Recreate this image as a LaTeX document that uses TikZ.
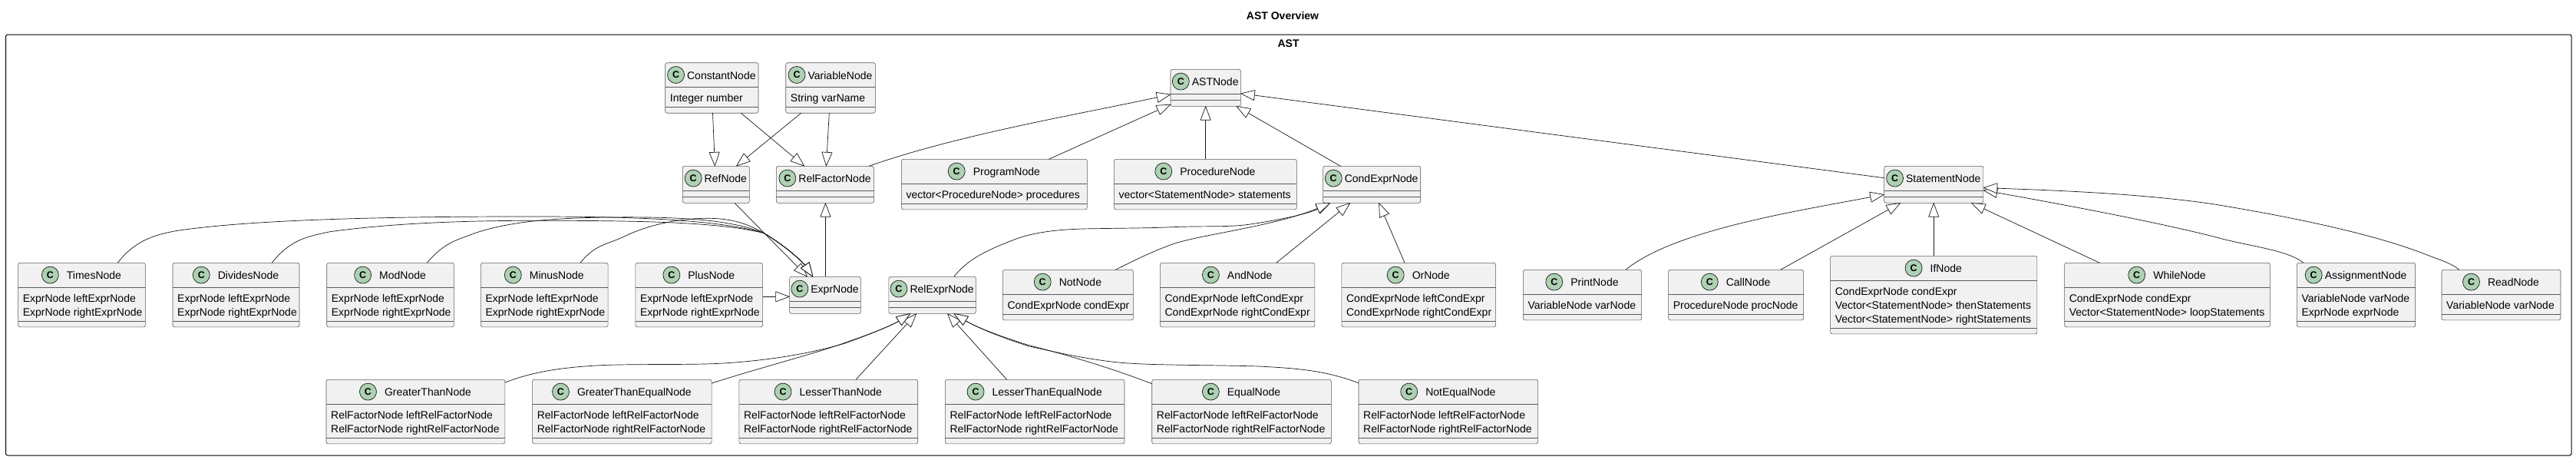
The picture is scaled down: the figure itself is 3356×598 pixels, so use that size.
\documentclass[tikz,border=0pt]{standalone}
\usepackage{fontspec}
\setmainfont{Liberation Sans}
\usetikzlibrary{arrows.meta}
\definecolor{boxfill}{HTML}{F1F1F1}
\definecolor{circfill}{HTML}{ADD1B2}
\definecolor{inkc}{HTML}{181818}
\definecolor{boxline}{HTML}{5A5A5A}
\newcommand{\umlfont}{\fontsize{14}{16}\selectfont}
\tikzset{
  clsbox/.style={draw=boxline,fill=boxfill,line width=0.6pt,rounded corners=2.5pt,inner sep=0pt,outer sep=0pt},
  sepline/.style={draw=boxline,line width=0.6pt},
  circ/.style={circle,draw=inkc,fill=circfill,line width=0.7pt,minimum size=22pt,inner sep=0pt,font=\bfseries\fontsize{12.5}{13}\selectfont},
  txt/.style={anchor=base west,inner sep=0pt,font=\umlfont,text=black},
  titletxt/.style={anchor=base,inner sep=0pt,font=\umlfont,text=black},
  inh/.style={draw=inkc,line width=0.7pt,-{Triangle[length=19pt,width=14pt,fill=white,round]}},
  ttl/.style={inner sep=0pt,font=\bfseries\umlfont,text=black},
  outer/.style={draw=black,line width=1pt,rounded corners=2.5pt,inner sep=0pt}
}
% id, x1, x2, y1, gap, title, number of fields, fields
\newcommand{\umlclass}[8]{%
  \pgfmathsetmacro{\cw}{#3-#2}%
  \pgfmathsetmacro{\comp}{(#7>0)?(7.5+18*#7):8}%
  \pgfmathsetmacro{\ch}{32+\comp+8}%
  \pgfmathsetmacro{\mx}{(#2+#3)/2}%
  \pgfmathsetmacro{\my}{#4+\ch/2}%
  \pgfmathsetmacro{\tcx}{\mx+(22+#5)/2}%
  \pgfmathsetmacro{\cy}{#4+15.8}%
  \pgfmathsetmacro{\ty}{#4+21.3}%
  \pgfmathsetmacro{\sa}{-32}%
  \pgfmathsetmacro{\sb}{-32-\comp}%
  \node[clsbox,minimum width=\cw pt,minimum height=\ch pt] (#1) at (\mx,\my) {};
  \draw[sepline] ([yshift=\sa pt]#1.north west) -- ([yshift=\sa pt]#1.north east);
  \draw[sepline] ([yshift=\sb pt]#1.north west) -- ([yshift=\sb pt]#1.north east);
  \node[titletxt] (#1-t) at (\tcx,\ty) {#6};
  \coordinate (#1-a) at (0,\cy);
  \node[circ,anchor=east] (#1-c) at ([xshift=-#5 pt]#1-t.base west |- #1-a) {C};
  \ifnum#7>0
    \foreach \f [count=\i] in {#8} {
      \pgfmathsetmacro{\fy}{#4+32+18.7+18*(\i-1)}
      \pgfmathsetmacro{\fx}{#2+6}
      \node[txt] (#1-f\i) at (\fx,\fy) {\f};
    }
  \fi
}
\begin{document}
\begin{tikzpicture}[x=1pt,y=-1pt]
\useasboundingbox (0,0) rectangle (3356,598);
\fill[white] (0,0) rectangle (3356,598);
\node[ttl] (overview) at (1671,20) {AST Overview};
\node[outer,minimum width=3342.5pt,minimum height=548pt] (frame) at (1678.75,319) {};
\node[ttl] (asttitle) at (1678.6,57) {AST};

\umlclass{ConstantNode}{866.7}{988}{81.7}{3}{ConstantNode}{1}{Integer number}
\umlclass{VariableNode}{1023.7}{1140.3}{81.7}{3}{VariableNode}{1}{String varName}
\umlclass{RefNode}{889.3}{976.4}{216.3}{3}{RefNode}{0}{}
\umlclass{RelFactorNode}{1011.4}{1138.6}{216.3}{3}{RelFactorNode}{0}{}
\umlclass{ASTNode}{1525}{1616.4}{90.3}{3}{ASTNode}{0}{}
\umlclass{ProgramNode}{1174.3}{1416.4}{207.3}{10}{ProgramNode}{1}{vector<ProcedureNode> procedures}
\umlclass{ProcedureNode}{1451.4}{1689.3}{207.3}{10}{ProcedureNode}{1}{vector<StatementNode> statements}
\umlclass{CondExprNode}{1723.6}{1850.7}{216.3}{3}{CondExprNode}{0}{}
\umlclass{StatementNode}{2454.6}{2583.9}{216.3}{3}{StatementNode}{0}{}

\umlclass{TimesNode}{23.6}{189.3}{342.3}{10}{TimesNode}{2}{ExprNode leftExprNode,ExprNode rightExprNode}
\umlclass{DividesNode}{225}{390}{342.3}{10}{DividesNode}{2}{ExprNode leftExprNode,ExprNode rightExprNode}
\umlclass{ModNode}{425.7}{591.4}{342.3}{10}{ModNode}{2}{ExprNode leftExprNode,ExprNode rightExprNode}
\umlclass{MinusNode}{626.4}{792.1}{342.3}{10}{MinusNode}{2}{ExprNode leftExprNode,ExprNode rightExprNode}
\umlclass{PlusNode}{827.9}{993.6}{342.3}{10}{PlusNode}{2}{ExprNode leftExprNode,ExprNode rightExprNode}
\umlclass{ExprNode}{1028.6}{1121.4}{360.3}{3}{ExprNode}{0}{}
\umlclass{RelExprNode}{1157.9}{1271.4}{360.3}{3}{RelExprNode}{0}{}
\umlclass{NotNode}{1306.4}{1476.4}{351.3}{10}{NotNode}{1}{CondExprNode condExpr}
\umlclass{AndNode}{1511.4}{1712.9}{342.3}{10}{AndNode}{2}{CondExprNode leftCondExpr,CondExprNode rightCondExpr}
\umlclass{OrNode}{1747.9}{1948.6}{342.3}{10}{OrNode}{2}{CondExprNode leftCondExpr,CondExprNode rightCondExpr}
\umlclass{PrintNode}{1984.3}{2138.6}{351.3}{10}{PrintNode}{1}{VariableNode varNode}
\umlclass{CallNode}{2173.6}{2349.6}{351.3}{10}{CallNode}{1}{ProcedureNode procNode}
\umlclass{IfNode}{2384.6}{2653.9}{333.3}{10}{IfNode}{3}{CondExprNode condExpr,Vector<StatementNode> thenStatements,Vector<StatementNode> rightStatements}
\umlclass{WhileNode}{2689.6}{2957.4}{342.3}{10}{WhileNode}{2}{CondExprNode condExpr,Vector<StatementNode> loopStatements}
\umlclass{AssignmentNode}{2992.4}{3146.7}{342.3}{3}{AssignmentNode}{2}{VariableNode varNode,ExprNode exprNode}
\umlclass{ReadNode}{3181}{3336}{351.3}{10}{ReadNode}{1}{VariableNode varNode}

\umlclass{GreaterThanNode}{425}{657.9}{494.3}{10}{GreaterThanNode}{2}{RelFactorNode leftRelFactorNode,RelFactorNode rightRelFactorNode}
\umlclass{GreaterThanEqualNode}{693.6}{927.1}{494.3}{10}{GreaterThanEqualNode}{2}{RelFactorNode leftRelFactorNode,RelFactorNode rightRelFactorNode}
\umlclass{LesserThanNode}{962.9}{1195.7}{494.3}{10}{LesserThanNode}{2}{RelFactorNode leftRelFactorNode,RelFactorNode rightRelFactorNode}
\umlclass{LesserThanEqualNode}{1231.4}{1465}{494.3}{10}{LesserThanEqualNode}{2}{RelFactorNode leftRelFactorNode,RelFactorNode rightRelFactorNode}
\umlclass{EqualNode}{1500.7}{1734.3}{494.3}{10}{EqualNode}{2}{RelFactorNode leftRelFactorNode,RelFactorNode rightRelFactorNode}
\umlclass{NotEqualNode}{1770}{2003.6}{494.3}{10}{NotEqualNode}{2}{RelFactorNode leftRelFactorNode,RelFactorNode rightRelFactorNode}

% straight connectors
\draw[inh] ([xshift=61.8pt]ConstantNode.south west) -- ([xshift=42.1pt]RefNode.north west);
\draw[inh] ([xshift=98.6pt]ConstantNode.south west) -- ([xshift=36.5pt]RelFactorNode.north west);
\draw[inh] ([xshift=20pt]VariableNode.south west) -- ([xshift=70pt]RefNode.north west);
\draw[inh] ([xshift=56.6pt]VariableNode.south west) -- ([xshift=65pt]RelFactorNode.north west);
\draw[inh] ([xshift=67.7pt]RefNode.south west) -- ([xshift=23.1pt]ExprNode.north west);
\draw[inh] ([xshift=46.9pt]ExprNode.north west) -- ([xshift=64.1pt]RelFactorNode.south west);
\draw[inh] ([yshift=-44pt]PlusNode.north east) -- ([yshift=-26pt]ExprNode.north west);
\draw[inh] ([xshift=192.1pt]ProgramNode.north west) -- ([yshift=-45.7pt]ASTNode.north west);
\draw[inh] ([xshift=119.3pt]ProcedureNode.north west) -- ([xshift=45.7pt]ASTNode.south west);
\draw[inh] ([xshift=22.8pt]CondExprNode.north west) -- ([xshift=85.7pt]ASTNode.south west);
\draw[inh] ([yshift=-15.4pt]StatementNode.north west) -- ([yshift=-31.4pt]ASTNode.north east);
\draw[inh] ([xshift=151.3pt]AndNode.north west) -- ([xshift=35.4pt]CondExprNode.south west);
\draw[inh] ([xshift=82.1pt]OrNode.north west) -- ([xshift=72.8pt]CondExprNode.south west);
\draw[inh] ([xshift=146pt]CallNode.north west) -- ([xshift=21.3pt]StatementNode.south west);
\draw[inh] ([xshift=134.6pt]IfNode.north west) -- ([xshift=64.6pt]StatementNode.south west);
\draw[inh] ([xshift=45.8pt]WhileNode.north west) -- ([xshift=113.7pt]StatementNode.south west);
\draw[inh] ([xshift=152.1pt]LesserThanNode.north west) -- ([xshift=36.1pt]RelExprNode.south west);
\draw[inh] ([xshift=80.3pt]LesserThanEqualNode.north west) -- ([xshift=76.4pt]RelExprNode.south west);

% curved connectors
\draw[inh] ([xshift=120.6pt]RelFactorNode.north west) .. controls (1250,175) and (1400,150) .. ([yshift=-32.7pt]ASTNode.north west);

\draw[inh] ([xshift=129.7pt]TimesNode.north west) .. controls (175,314) and (200,306) .. (229,300.7)
  .. controls (350,282) and (600,282) .. (694,282) .. controls (800,282) and (930,284) .. (995,303.5)
  .. controls (1020,318) and (1045,340) .. ([xshift=30.4pt]ExprNode.north west);
\draw[inh] ([xshift=129.2pt]DividesNode.north west) .. controls (378,312) and (400,308) .. (430,301.7)
  .. controls (530,288) and (640,287) .. (723,287.3) .. controls (850,287.5) and (940,290) .. (995,303.5)
  .. controls (1020,318) and (1045,340) .. ([xshift=30.4pt]ExprNode.north west);
\draw[inh] ([xshift=130.6pt]ModNode.north west) .. controls (580,314) and (598,312) .. (619.4,303.3)
  .. controls (660,290) and (710,284) .. (790,283) .. controls (880,282) and (950,285) .. (995,303.5)
  .. controls (1020,318) and (1045,340) .. ([xshift=30.4pt]ExprNode.north west);
\draw[inh] ([xshift=129.6pt]MinusNode.north west) .. controls (775,318) and (793,318) .. (814.6,307.3)
  .. controls (840,295) and (880,284) .. (923.7,284.3) .. controls (955,284.5) and (975,292) .. (995,303.5)
  .. controls (1020,318) and (1045,340) .. ([xshift=30.4pt]ExprNode.north west);

\draw[inh] ([xshift=85pt]RelExprNode.north west) .. controls (1262,335) and (1295,322) .. (1326.7,310)
  .. controls (1360,299) and (1400,298) .. (1426.7,297.7) .. controls (1470,297) and (1500,297) .. (1526.7,295.7)
  .. controls (1570,294) and (1600,296) .. (1626.7,292.3) .. controls (1670,286) and (1705,278) .. ([xshift=9.4pt]CondExprNode.south west);
\draw[inh] ([xshift=146.9pt]NotNode.north west) .. controls (1480,338) and (1500,328) .. (1526.7,318.3)
  .. controls (1560,306) and (1660,295) .. ([xshift=9.4pt]CondExprNode.south west);

\draw[inh] ([xshift=133.7pt]PrintNode.north west) .. controls (2180,300) and (2340,275) .. ([yshift=-37pt]StatementNode.north west);
\draw[inh] ([xshift=8.6pt]AssignmentNode.north west) .. controls (2980,325) and (2925,320) .. (2885,308.3)
  .. controls (2800,287) and (2680,265) .. ([yshift=-31.4pt]StatementNode.north east);
\draw[inh] ([xshift=23pt]ReadNode.north west) .. controls (3192,342) and (3180,339) .. (3164.6,333)
  .. controls (3100,307) and (3000,285) .. (2885,266) .. controls (2790,252) and (2680,248) .. ([yshift=-28.2pt]StatementNode.north east);

\draw[inh] ([yshift=-3.7pt]GreaterThanNode.north east) .. controls (700,482) and (740,478) .. (785.7,475.5)
  .. controls (830,474) and (890,475) .. (928.6,473.7) .. controls (990,471) and (1050,462) .. (1100,447.3)
  .. controls (1140,433) and (1165,422) .. ([xshift=28.1pt]RelExprNode.south west);
\draw[inh] ([yshift=-4.7pt]GreaterThanEqualNode.north east) .. controls (1000,476) and (1070,458) .. (1100,446.5)
  .. controls (1140,433) and (1165,422) .. ([xshift=28.1pt]RelExprNode.south west);
\draw[inh] ([yshift=-5.4pt]EqualNode.north west) .. controls (1450,480) and (1390,462) .. (1340,449.5)
  .. controls (1300,437) and (1270,425) .. ([xshift=84.8pt]RelExprNode.south west);
\draw[inh] ([yshift=-4.4pt]NotEqualNode.north west) .. controls (1730,484) and (1700,480) .. (1640,477)
  .. controls (1570,475) and (1500,476) .. (1457,472) .. controls (1420,468) and (1390,462) .. (1340,450.7)
  .. controls (1300,438) and (1270,425) .. ([xshift=84.8pt]RelExprNode.south west);
\end{tikzpicture}
\end{document}
